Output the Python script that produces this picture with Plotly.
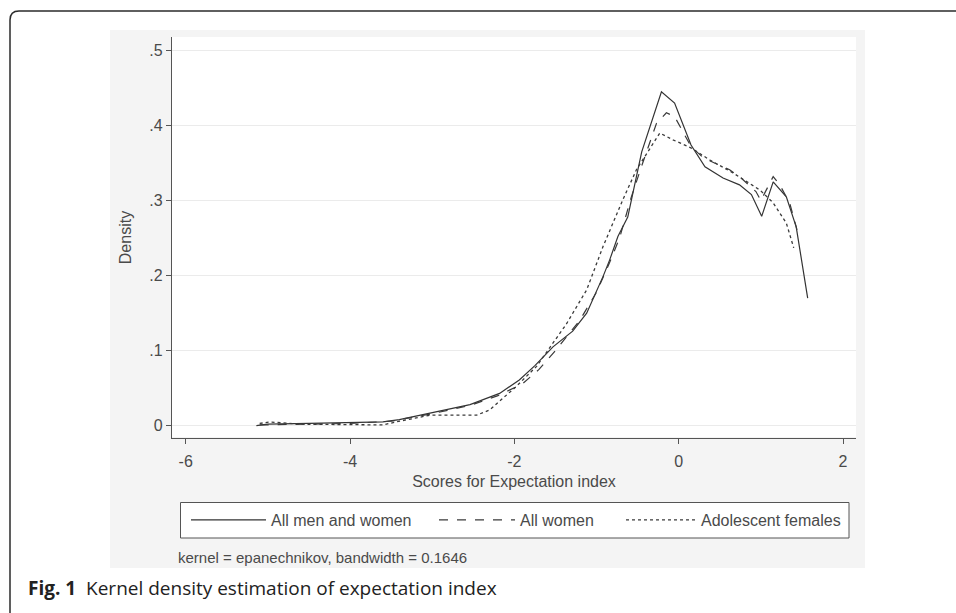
import plotly.graph_objects as go

# ---------------- data ----------------
all_x = [-5.14, -5.0, -4.5, -4.0, -3.6, -3.4, -3.0, -2.54, -2.18, -1.94, -1.75, -1.53,
         -1.29, -1.12, -0.92, -0.84, -0.74, -0.62, -0.45, -0.21, -0.05, 0.15, 0.32,
         0.54, 0.74, 0.885, 1.01, 1.15, 1.31, 1.43, 1.57]
all_y = [0.000, 0.002, 0.003, 0.004, 0.005, 0.008, 0.017, 0.028, 0.043, 0.061, 0.080, 0.105,
         0.126, 0.150, 0.199, 0.221, 0.252, 0.278, 0.365, 0.445, 0.430, 0.374, 0.345,
         0.330, 0.321, 0.308, 0.279, 0.325, 0.305, 0.265, 0.170]

women_x = [-5.1, -4.5, -4.0, -3.5, -3.0, -2.54, -2.2, -1.9, -1.7, -1.5, -1.2, -1.0, -0.85,
           -0.72, -0.576, -0.454, -0.27, -0.15, -0.05, 0.15, 0.30, 0.62, 0.76, 0.94, 1.0,
           1.15, 1.23, 1.35, 1.44]
women_y = [0.001, 0.002, 0.003, 0.006, 0.016, 0.027, 0.040, 0.056, 0.075, 0.100, 0.141, 0.178,
           0.215, 0.250, 0.305, 0.345, 0.403, 0.417, 0.412, 0.372, 0.357, 0.341, 0.330, 0.312,
           0.300, 0.332, 0.321, 0.297, 0.261]

adol_x = [-5.1, -4.98, -4.6, -4.0, -3.6, -3.44, -3.03, -2.46, -2.30, -1.98, -1.73, -1.37,
          -1.12, -0.92, -0.68, -0.515, -0.23, -0.07, 0.154, 0.38, 0.66, 0.86, 0.99, 1.15,
          1.31, 1.40]
adol_y = [0.003, 0.005, 0.002, 0.002, 0.001, 0.005, 0.014, 0.014, 0.021, 0.052, 0.079, 0.135,
          0.181, 0.239, 0.301, 0.341, 0.390, 0.381, 0.370, 0.354, 0.337, 0.323, 0.314, 0.297,
          0.270, 0.237]

series_names = ["All men and women", "All women", "Adolescent females"]

x_ticks = [-6, -4, -2, 0, 2]
x_tick_text = ["-6", "-4", "-2", "0", "2"]
y_ticks = [0, 0.1, 0.2, 0.3, 0.4, 0.5]
y_tick_text = ["0", ".1", ".2", ".3", ".4", ".5"]

x_title = "Scores for Expectation index"
y_title = "Density"
note_text = "kernel = epanechnikov, bandwidth = 0.1646"
caption_text = "<b>Fig. 1</b>  Kernel density estimation of expectation index"

# ---------------- layout geometry (pixels) ----------------
W, H = 956, 613
PL, PR, PT, PB = 172, 856, 37, 438   # plot area


def px(x):
    return (x - PL) / (PR - PL)


def py(y):
    return (PB - y) / (PB - PT)


TXT = "#4a4a4a"
FONT = "Liberation Sans, Arial, sans-serif"

fig = go.Figure()
styles = [dict(color="#333333", width=1.2, dash="solid"),
          dict(color="#3a3a3a", width=1.2, dash="dash"),
          dict(color="#3a3a3a", width=1.3, dash="dot")]
legend_ids = ["legend", "legend2", "legend3"]
legend_left = [186, 434, 621]      # pixel x where each legend key starts
legend_keyw = [75, 76, 70]         # key (symbol) widths

for xs, ys, name, st, lg in zip([all_x, women_x, adol_x], [all_y, women_y, adol_y],
                                series_names, styles, legend_ids):
    fig.add_trace(go.Scatter(x=xs, y=ys, mode="lines", name=name, line=st, legend=lg))

shapes = [
    # grey Stata graph region
    dict(type="rect", xref="paper", yref="paper", x0=px(110), x1=px(865), y0=py(568), y1=py(30),
         fillcolor="#f4f4f4", line=dict(width=0), layer="below"),
    # white plot region
    dict(type="rect", xref="paper", yref="paper", x0=px(PL), x1=px(PR), y0=py(PB - 1), y1=py(PT),
         fillcolor="white", line=dict(width=0), layer="below"),
    # legend frame
    dict(type="rect", xref="paper", yref="paper", x0=px(180.5), x1=px(849), y0=py(538), y1=py(502.5),
         fillcolor="white", line=dict(color="#555555", width=1), layer="below"),
    # outer rounded frame of the figure panel
    dict(type="path", xref="paper", yref="paper", layer="above",
         path=f"M {px(10)},{py(640)} L {px(10)},{py(20)} Q {px(10)},{py(11)} {px(19)},{py(11)} L {px(970)},{py(11)}",
         line=dict(color="#2b2b2b", width=1.5)),
]

annotations = [
    dict(text=note_text, xref="paper", yref="paper", x=px(176), y=py(557), xanchor="left",
         yanchor="middle", showarrow=False, font=dict(family=FONT, size=15, color=TXT)),
    dict(text=caption_text, xref="paper", yref="paper", x=px(26), y=py(588), xanchor="left",
         yanchor="middle", showarrow=False, font=dict(family="Open Sans, Noto Sans, sans-serif",
                                                       size=19, color="#222222")),
]

legend_common = dict(orientation="h", xanchor="left", yanchor="middle", y=py(520),
                     bgcolor="rgba(0,0,0,0)", borderwidth=0,
                     font=dict(family=FONT, size=16, color=TXT))

fig.update_layout(
    width=W, height=H,
    margin=dict(l=PL, r=W - PR, t=PT, b=H - PB),
    paper_bgcolor="white", plot_bgcolor="white",
    font=dict(family=FONT, color=TXT, size=16),
    shapes=shapes, annotations=annotations,
    showlegend=True,
    legend=dict(x=px(legend_left[0]), itemwidth=legend_keyw[0], **legend_common),
    legend2=dict(x=px(legend_left[1]), itemwidth=legend_keyw[1], **legend_common),
    legend3=dict(x=px(legend_left[2]), itemwidth=legend_keyw[2], **legend_common),
)

fig.update_xaxes(range=[-6.167, 2.158], tickvals=x_ticks, ticktext=x_tick_text,
                 showgrid=False, zeroline=False, ticklabelstandoff=4,
                 showline=True, linecolor="#555555", linewidth=1.3, ticks="outside",
                 ticklen=5, tickcolor="#555555", tickfont=dict(size=16, color=TXT),
                 title=dict(text=x_title, standoff=6, font=dict(size=16, color=TXT)))
fig.update_yaxes(range=[-0.0164, 0.518], tickvals=y_ticks, ticktext=y_tick_text,
                 showgrid=True, gridcolor="#ebebeb", gridwidth=1, zeroline=False,
                 showline=True, linecolor="#555555", linewidth=1.3, ticks="outside",
                 ticklen=5, tickcolor="#555555", tickfont=dict(size=16, color=TXT),
                 title=dict(text=y_title, standoff=13, font=dict(size=16, color=TXT)))

fig.write_html("out.html", config={"displayModeBar": False},
               post_script="document.body.style.margin='0px';document.body.style.overflow='hidden';")
